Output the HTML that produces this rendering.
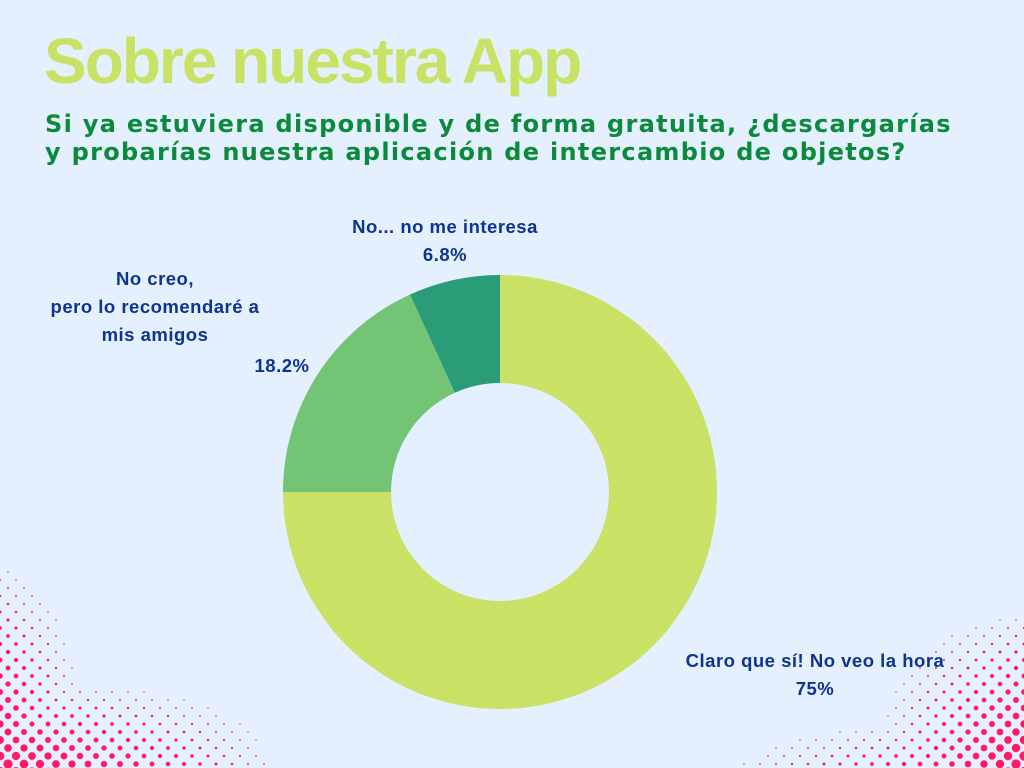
<!DOCTYPE html>
<html><head><meta charset="utf-8"><style>
html,body{margin:0;padding:0}
body{width:1024px;height:768px;background:#e4f0fd;position:relative;overflow:hidden;font-family:"Liberation Sans","DejaVu Sans",sans-serif}
#title{position:absolute;left:44px;top:26px;font-size:64px;font-weight:bold;color:#c9e265;letter-spacing:-2px;font-family:"Liberation Sans",sans-serif;white-space:nowrap;line-height:70px}
#sub{position:absolute;left:45px;top:110px;font-size:24px;font-weight:bold;color:#0b8a3c;line-height:28px;letter-spacing:1.3px;white-space:nowrap;font-family:"DejaVu Sans","Liberation Sans",sans-serif}
.lbl{position:absolute;color:#0d3590;font-weight:bold;font-size:18.5px;text-align:center;line-height:28px;white-space:nowrap;letter-spacing:0.5px}
svg{position:absolute;left:0;top:0}
</style></head><body>
<svg id="bg" width="1024" height="768"></svg>
<div id="title">Sobre nuestra App</div>
<div id="sub">Si ya estuviera disponible y de forma gratuita, ¿descargarías<br>y probarías nuestra aplicación de intercambio de objetos?</div>
<svg id="chart" width="1024" height="768"></svg>
<div class="lbl" style="left:335px;top:213px;width:220px">No... no me interesa<br>6.8%</div>
<div class="lbl" style="left:35px;top:265px;width:240px">No creo,<br>pero lo recomendaré a<br>mis amigos</div>
<div class="lbl" style="left:247px;top:352px;width:70px">18.2%</div>
<div class="lbl" style="left:670px;top:647px;width:290px">Claro que sí! No veo la hora<br>75%</div>
<script>
const categories=["Claro que sí! No veo la hora","No creo, pero lo recomendaré a mis amigos","No... no me interesa"];
const values=[75,18.2,6.8];
const colors=["#c9e265","#74c476","#2a9d78"];
const NS="http://www.w3.org/2000/svg";
const cx=500,cy=492,R=217,r=109;
const chart=document.getElementById('chart');
const total=values.reduce((a,b)=>a+b,0);
function pt(a,rad){return [cx+rad*Math.sin(a),cy-rad*Math.cos(a)];}
let a0=0;
values.forEach((v,i)=>{
  const a1=a0+v/total*2*Math.PI;
  const large=(a1-a0)>Math.PI?1:0;
  const p1=pt(a0,R),p2=pt(a1,R),p3=pt(a1,r),p4=pt(a0,r);
  const p=document.createElementNS(NS,'path');
  p.setAttribute('d',`M${p1[0]},${p1[1]}A${R},${R} 0 ${large} 1 ${p2[0]},${p2[1]}L${p3[0]},${p3[1]}A${r},${r} 0 ${large} 0 ${p4[0]},${p4[1]}Z`);
  p.setAttribute('fill',colors[i]);
  
  
  chart.appendChild(p);
  a0=a1;
});
const bg=document.getElementById('bg');
let html='';
for(let row=0;row*8<=768;row++){
  const y=row*8+4;
  for(let x=(row%2?8:0);x<=1024;x+=16){
    const l1=Math.max(0,1-x/320)*Math.max(0,(y-665)/105);
    const l2=Math.max(0,1-x/100)*Math.max(0,(y-530)/238);
    const r1=Math.max(0,1-(1024-x)/360)*Math.max(0,(y-705)/65)*0.8;
    const r2=Math.max(0,1-(1024-x)/170)*Math.max(0,(y-590)/178);
    const s=Math.max(l1*5,l2*4.5,r1*4.5,r2*5);
    if(s>0.7) html+=`<circle cx="${x}" cy="${y}" r="${Math.min(s,5).toFixed(2)}" fill="#ff1a6b"/>`;
  }
}
bg.innerHTML=html;
</script>
</body></html>
